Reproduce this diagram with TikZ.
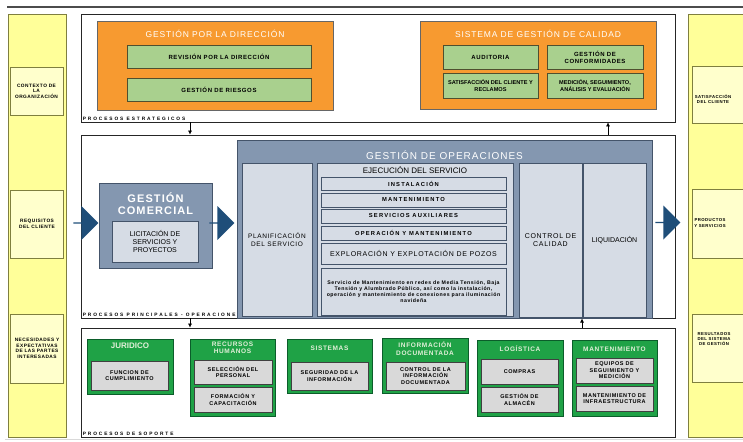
\documentclass[tikz,border=0pt]{standalone}
\usepackage{fontspec}
\setmainfont{Liberation Sans}
\newfontfamily\widefont[LetterSpace=40]{Liberation Sans}
\newfontfamily\midfont[LetterSpace=20]{Liberation Sans}
\newfontfamily\spcfont[LetterSpace=10]{Liberation Sans}
\usetikzlibrary{shapes.arrows,arrows.meta}
\definecolor{colYellow}{HTML}{FFFF99}
\definecolor{colYlight}{HTML}{FFFFCC}
\definecolor{colYbd}{HTML}{7F7F3F}
\definecolor{colOrange}{HTML}{F79A30}
\definecolor{colGreen}{HTML}{A9D08E}
\definecolor{colGbd}{HTML}{4F4F2F}
\definecolor{colSlate}{HTML}{8497B0}
\definecolor{colSbd}{HTML}{44546A}
\definecolor{colLight}{HTML}{D6DCE5}
\definecolor{colArrow}{HTML}{1F4E79}
\definecolor{colDG}{HTML}{1FA246}
\definecolor{colDGbd}{HTML}{0B5D2A}
\definecolor{colGtxt}{HTML}{E2F0D9}
\definecolor{colGray}{HTML}{D9D9D9}
\newcommand\fnt[2]{\fontsize{#1}{#2}\selectfont}

\begin{document}
\begin{tikzpicture}[x=1pt,y=-1pt,
  every node/.style={inner sep=1pt,align=center},
  ycol/.style={draw=colYbd,fill=colYellow,line width=0.8pt},
  ybox/.style={draw=colYbd,fill=colYlight,line width=0.8pt,font=\spcfont\bfseries\fnt{4.8}{5.6}},
  ytext/.style={font=\spcfont\bfseries\fnt{4.3}{5.2}},
  frame/.style={draw=black!85,fill=white,line width=0.8pt},
  lbl/.style={anchor=south west,inner sep=2pt,font=\widefont\bfseries\fnt{4.8}{5.4}},
  obox/.style={draw=black!60,fill=colOrange,line width=0.8pt},
  ottl/.style={text=white,font=\spcfont\fnt{8.5}{10}},
  gnbox/.style={draw=colGbd,fill=colGreen,line width=0.8pt,font=\spcfont\bfseries\fnt{6}{7}},
  sbox/.style={draw=colSbd,fill=colSlate,line width=1pt},
  lbox/.style={draw=colSbd,fill=colLight,line width=0.8pt},
  ebox/.style={lbox,font=\midfont\bfseries\fnt{5.8}{6.8}},
  barrow/.style={single arrow,fill=colArrow,minimum height=25pt,minimum width=34pt,single arrow head extend=6.5pt,single arrow head indent=0pt,inner sep=0pt},
  dgbox/.style={draw=colDGbd,fill=colDG,line width=1pt},
  dgttl/.style={text=colGtxt,font=\spcfont\bfseries\fnt{6.5}{7.5}},
  gybox/.style={draw=black!75,fill=colGray,line width=0.8pt,font=\spcfont\bfseries\fnt{5.5}{6.5}},
  arr/.style={-{Latex[length=4pt,width=4pt]},line width=0.6pt}]
  \useasboundingbox (0,0) rectangle (743,441);
  \draw[black!70,line width=1.2pt] (7,7) -- (743,7);
  \draw[black!15,line width=1pt] (5,439) -- (743,439);

  \node[ycol,minimum width=58pt,minimum height=423pt] (lcol) at (37,225.5) {};
  \node[ycol,minimum width=62pt,minimum height=423pt] (rcol) at (719,225.5) {};
  \node[ybox,minimum width=53pt,minimum height=48pt] (ctx) at (36.5,91) {CONTEXTO DE\\LA\\ORGANIZACIÓN};
  \node[ybox,minimum width=53pt,minimum height=68pt] (req) at (37,224) {REQUISITOS\\DEL CLIENTE};
  \node[ybox,minimum width=53pt,minimum height=69pt] (nec) at (37,348.5) {NECESIDADES Y\\EXPECTATIVAS\\DE LAS PARTES\\INTERESADAS};
  \node[ybox,minimum width=56pt,minimum height=57pt] (sat) at (720,94.5) {};
  \node[ytext] (satt) at (713,99) {SATISFACCIÓN\\DEL CLIENTE};
  \node[ybox,minimum width=56pt,minimum height=69pt] (prod) at (720,223.5) {};
  \node[ytext] (prodt) at (710,223) {PRODUCTOS\\Y SERVICIOS};
  \node[ybox,minimum width=56pt,minimum height=68pt] (res) at (720,348) {};
  \node[ytext] (rest) at (714,339) {RESULTADOS\\DEL SISTEMA\\DE GESTIÓN};

  \node[frame,minimum width=594pt,minimum height=108pt] (strat) at (378,68) {};
  \node[lbl] (stratl) at (strat.south west) {PROCESOS ESTRATEGICOS};
  \node[frame,minimum width=594pt,minimum height=183pt] (mid) at (378,226.5) {};
  \node[lbl] (midl) at (mid.south west) {PROCESOS PRINCIPALES - OPERACIONES};
  \node[frame,minimum width=594pt,minimum height=109pt] (sup) at (378,382.5) {};
  \node[lbl] (supl) at (sup.south west) {PROCESOS DE SOPORTE};

  \node[obox,minimum width=236pt,minimum height=89pt] (dir) at (215,65.5) {};
  \node[ottl] (dirt) at (215,34) {GESTIÓN POR LA DIRECCIÓN};
  \node[gnbox,minimum width=184pt,minimum height=23pt] (rev) at (219,56.5) {REVISIÓN POR LA DIRECCIÓN};
  \node[gnbox,minimum width=184pt,minimum height=23pt] (rie) at (219,89.5) {GESTIÓN DE RIESGOS};
  \node[obox,minimum width=236pt,minimum height=88pt] (sgc) at (538,65) {};
  \node[ottl] (sgct) at (538,34) {SISTEMA DE GESTIÓN DE CALIDAD};
  \node[gnbox,minimum width=95pt,minimum height=24pt] (aud) at (490.5,57) {AUDITORIA};
  \node[gnbox,minimum width=96pt,minimum height=24pt] (conf) at (595,57) {GESTIÓN DE\\CONFORMIDADES};
  \node[gnbox,minimum width=95pt,minimum height=25pt,font=\bfseries\fnt{5.6}{7}] (scli) at (490.5,85.5) {SATISFACCIÓN DEL CLIENTE Y\\RECLAMOS};
  \node[gnbox,minimum width=96pt,minimum height=25pt,font=\bfseries\fnt{5.6}{7}] (med) at (595,85.5) {MEDICIÓN, SEGUIMIENTO,\\ANÁLISIS Y EVALUACIÓN};

  \node[barrow] (ba1) at (85.5,223) {};
  \node[sbox,minimum width=113pt,minimum height=85pt] (com) at (155.5,225.5) {};
  \node[text=white,font=\spcfont\bfseries\fnt{11}{12.5}] (comt) at (155.5,203.5) {GESTIÓN\\COMERCIAL};
  \node[lbox,minimum width=86pt,minimum height=41pt,font=\fnt{7}{8}] (lic) at (155,241.5) {LICITACIÓN DE\\SERVICIOS Y\\PROYECTOS};
  \node[barrow] (ba2) at (221.5,223) {};

  \node[sbox,minimum width=415pt,minimum height=178pt] (ops) at (444.5,229) {};
  \node[text=white,font=\spcfont\fnt{10}{12}] (opst) at (444.5,155) {GESTIÓN DE OPERACIONES};
  \node[lbox,minimum width=70pt,minimum height=153pt,font=\spcfont\fnt{6.5}{7.5}] (plan) at (277,239.5) {PLANIFICACIÓN\\DEL SERVICIO};
  \node[lbox,minimum width=196pt,minimum height=153pt] (eje) at (415,239.5) {};
  \node[font=\fnt{8}{9}] (ejet) at (415,170) {EJECUCIÓN DEL SERVICIO};
  \node[ebox,minimum width=185pt,minimum height=13pt] (inst) at (413.5,183.5) {INSTALACIÓN};
  \node[ebox,minimum width=185pt,minimum height=14pt] (mant) at (413.5,200) {MANTENIMIENTO};
  \node[ebox,minimum width=185pt,minimum height=14pt] (saux) at (413.5,216) {SERVICIOS AUXILIARES};
  \node[ebox,minimum width=185pt,minimum height=14pt] (opm) at (413.5,233) {OPERACIÓN Y MANTENIMIENTO};
  \node[lbox,minimum width=185pt,minimum height=21pt,font=\spcfont\fnt{7}{8}] (expl) at (413.5,253.5) {EXPLORACIÓN Y EXPLOTACIÓN DE POZOS};
  \node[lbox,minimum width=185pt,minimum height=47pt,font=\spcfont\bfseries\fnt{5.2}{6.2}] (desc) at (413.5,291.5) {Servicio de Mantenimiento en redes de Media Tensión, Baja\\Tensión y Alumbrado Público, así como la instalación,\\operación y mantenimiento de conexiones para iluminación\\navideña};
  \node[lbox,minimum width=63pt,minimum height=154pt,font=\spcfont\fnt{7}{8}] (ctrl) at (550.5,240) {CONTROL DE\\CALIDAD};
  \node[lbox,minimum width=63pt,minimum height=154pt,font=\fnt{7}{8}] (liq) at (614.5,240) {LIQUIDACIÓN};
  \node[barrow] (ba3) at (667.5,222.5) {};

  \node[dgbox,minimum width=86pt,minimum height=55pt] (jur) at (130,366.5) {};
  \node[dgttl,font=\bfseries\fnt{8}{9}] (jurt) at (130,346) {JURIDICO};
  \node[gybox,minimum width=77pt,minimum height=29pt] (fun) at (129.5,375.5) {FUNCION DE\\CUMPLIMIENTO};
  \node[dgbox,minimum width=85pt,minimum height=77pt] (rrhh) at (232.5,377.5) {};
  \node[dgttl] (rrhht) at (232.5,348) {RECURSOS\\HUMANOS};
  \node[gybox,minimum width=78pt,minimum height=24pt] (sel) at (233,372) {SELECCIÓN DEL\\PERSONAL};
  \node[gybox,minimum width=78pt,minimum height=25pt] (for) at (233,399.5) {FORMACIÓN Y\\CAPACITACIÓN};
  \node[dgbox,minimum width=85pt,minimum height=54pt] (sis) at (329.5,366) {};
  \node[dgttl] (sist) at (329.5,348) {SISTEMAS};
  \node[gybox,minimum width=77pt,minimum height=28pt] (seg) at (329.5,376) {SEGURIDAD DE LA\\INFORMACIÓN};
  \node[dgbox,minimum width=86pt,minimum height=55pt] (inf) at (425,365.5) {};
  \node[dgttl] (inft) at (425,348.5) {INFORMACIÓN\\DOCUMENTADA};
  \node[gybox,minimum width=79pt,minimum height=28pt] (cinf) at (425.5,376) {CONTROL DE LA\\INFORMACIÓN\\DOCUMENTADA};
  \node[dgbox,minimum width=86pt,minimum height=76pt] (log) at (520,378) {};
  \node[dgttl] (logt) at (520,349) {LOGÍSTICA};
  \node[gybox,minimum width=77pt,minimum height=25pt] (com2) at (519.5,371.5) {COMPRAS};
  \node[gybox,minimum width=77pt,minimum height=25pt] (alm) at (519.5,399.5) {GESTIÓN DE\\ALMACÉN};
  \node[dgbox,minimum width=85pt,minimum height=76pt] (mto) at (614.5,378) {};
  \node[dgttl] (mtot) at (614.5,349) {MANTENIMIENTO};
  \node[gybox,minimum width=77pt,minimum height=25pt] (equ) at (614.5,370.5) {EQUIPOS DE\\SEGUIMIENTO Y\\MEDICIÓN};
  \node[gybox,minimum width=77pt,minimum height=25pt] (inft2) at (614.5,398.5) {MANTENIMIENTO DE\\INFRAESTRUCTURA};

  \coordinate (c1) at (190,0);
  \coordinate (c2) at (608,0);
  \coordinate (c3) at (582,0);
  \draw[arr] (strat.south -| c1) -- (mid.north -| c1);
  \draw[arr] (mid.north -| c2) -- (strat.south -| c2);
  \draw[arr] (mid.south -| c1) -- (sup.north -| c1);
  \draw[arr] (sup.north -| c3) -- (ops.south -| c3);
\end{tikzpicture}
\end{document}
